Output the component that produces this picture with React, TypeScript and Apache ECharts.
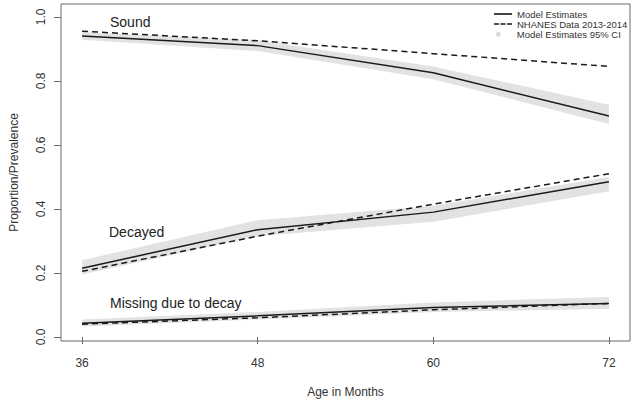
import React, { useEffect, useRef } from "react";
import * as echarts from "echarts";

const ages = [36, 48, 60, 72];
const xTicks = [36, 48, 60, 72];
const yTicks = [0, 0.2, 0.4, 0.6, 0.8, 1.0];

const soundModel = [0.94, 0.91, 0.825, 0.69];
const soundNhanes = [0.955, 0.925, 0.885, 0.845];
const soundLower = [0.928, 0.893, 0.805, 0.665];
const soundUpper = [0.952, 0.927, 0.845, 0.725];

const decayedModel = [0.215, 0.335, 0.39, 0.485];
const decayedNhanes = [0.205, 0.315, 0.415, 0.51];
const decayedLower = [0.195, 0.315, 0.36, 0.455];
const decayedUpper = [0.24, 0.365, 0.41, 0.5];

const missingModel = [0.043, 0.066, 0.092, 0.105];
const missingNhanes = [0.04, 0.06, 0.085, 0.105];
const missingLower = [0.033, 0.055, 0.078, 0.088];
const missingUpper = [0.055, 0.078, 0.108, 0.125];

const bands = [
  { lower: soundLower, upper: soundUpper },
  { lower: decayedLower, upper: decayedUpper },
  { lower: missingLower, upper: missingUpper },
];

const legendNames = ["Model Estimates", "NHANES Data 2013-2014", "Model Estimates 95% CI"];
const legendIcons = [
  "path://M0,0H22V2H0Z",
  "path://M0,0H6V2H0Z M8,0H14V2H8Z M16,0H22V2H16Z",
  "path://M0,0 M22,10 M3,3H8V8H3Z",
];
const legendColors = ["#1a1a1a", "#1a1a1a", "#d6d6d6"];

const FONT = "Liberation Sans, Arial, Helvetica, sans-serif";
const BAND = "#e2e2e2";

function pairs(vals: number[]) {
  return ages.map((a, i) => [a, vals[i]]);
}

function modelSeries(vals: number[]) {
  return {
    name: legendNames[0],
    type: "line",
    data: pairs(vals),
    symbol: "none",
    color: "#1a1a1a",
    lineStyle: { color: "#1a1a1a", width: 1.5 },
    z: 3,
  };
}

function nhanesSeries(vals: number[]) {
  return {
    name: legendNames[1],
    type: "line",
    data: pairs(vals),
    symbol: "none",
    color: "#1a1a1a",
    lineStyle: { color: "#1a1a1a", width: 1.5, type: [6, 4] },
    z: 4,
  };
}

export default function App() {
  const ref = useRef<HTMLDivElement>(null);
  useEffect(() => {
    if (!ref.current) return;
    const chart = echarts.init(ref.current, undefined, { renderer: "svg" });
    chart.setOption({
      animation: false,
      backgroundColor: "#ffffff",
      textStyle: { fontFamily: FONT },
      grid: {
        left: 54,
        right: 10,
        top: 4,
        bottom: 67,
        show: true,
        borderColor: "#6a6a6a",
        borderWidth: 1,
        backgroundColor: "transparent",
      },
      legend: legendNames.map((name, i) => ({
        orient: "vertical",
        left: 494,
        top: 9 + i * 10,
        padding: 0,
        itemWidth: 18,
        itemHeight: 8,
        itemGap: 0,
        selectedMode: false,
        textStyle: { fontFamily: FONT, fontSize: 9.5, lineHeight: 10, color: "#333" },
        data: [
          { name, icon: legendIcons[i], itemStyle: { color: legendColors[i], borderWidth: 0 } },
        ],
      })),
      xAxis: {
        type: "value",
        min: 34.56,
        max: 73.44,
        name: "Age in Months",
        nameLocation: "middle",
        nameGap: 45,
        nameTextStyle: { fontFamily: FONT, fontSize: 12, color: "#333" },
        axisLine: { show: false },
        splitLine: { show: false },
        axisTick: {
          show: true,
          inside: false,
          length: 7,
          customValues: xTicks,
          lineStyle: { color: "#6a6a6a", width: 1 },
        },
        axisLabel: {
          customValues: xTicks,
          margin: 16,
          fontFamily: FONT,
          fontSize: 12,
          color: "#333",
        },
      },
      yAxis: {
        type: "value",
        min: -0.0125,
        max: 1.04,
        name: "Proportion/Prevalence",
        nameLocation: "middle",
        nameGap: 41,
        nameTextStyle: { fontFamily: FONT, fontSize: 12, color: "#333" },
        axisLine: { show: false },
        splitLine: { show: false },
        axisTick: {
          show: true,
          inside: false,
          length: 7,
          customValues: yTicks,
          lineStyle: { color: "#6a6a6a", width: 1 },
        },
        axisLabel: {
          customValues: yTicks,
          rotate: 90,
          margin: 14,
          fontFamily: FONT,
          fontSize: 12,
          color: "#333",
          formatter: (v: number) => v.toFixed(1),
        },
      },
      graphic: [
        {
          type: "text",
          left: 110,
          top: 15,
          style: { text: "Sound", font: "14px " + FONT, fill: "#222" },
        },
        {
          type: "text",
          left: 109,
          top: 225,
          style: { text: "Decayed", font: "14px " + FONT, fill: "#222" },
        },
        {
          type: "text",
          left: 110,
          top: 296,
          style: { text: "Missing due to decay", font: "14px " + FONT, fill: "#222" },
        },
      ],
      series: [
        {
          name: legendNames[2],
          type: "custom",
          color: "#d6d6d6",
          silent: true,
          z: 1,
          data: bands.map((_, i) => [ages[0], 0, i]),
          encode: { x: 0, y: 1 },
          renderItem: (params: any, api: any) => {
            const b = bands[api.value(2)];
            const upperPts = ages.map((a, i) => api.coord([a, b.upper[i]]));
            const lowerPts = ages.map((a, i) => api.coord([a, b.lower[i]])).reverse();
            return {
              type: "polygon",
              shape: { points: upperPts.concat(lowerPts) },
              style: { fill: BAND, stroke: "none" },
            };
          },
        },
        modelSeries(soundModel),
        modelSeries(decayedModel),
        modelSeries(missingModel),
        nhanesSeries(soundNhanes),
        nhanesSeries(decayedNhanes),
        nhanesSeries(missingNhanes),
      ],
    });
    return () => chart.dispose();
  }, []);
  return (
    <div
      ref={ref}
      style={{ position: "fixed", left: 0, top: 0, width: 640, height: 408 }}
    />
  );
}
